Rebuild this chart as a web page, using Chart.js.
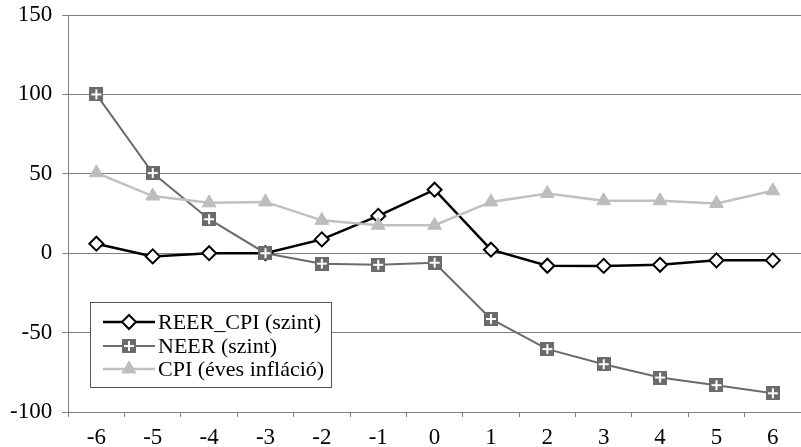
<!DOCTYPE html>
<html>
<head>
<meta charset="utf-8">
<script src="https://cdn.jsdelivr.net/npm/chart.js@4/dist/chart.umd.min.js"></script>
<style>
html, body { margin: 0; padding: 0; overflow: hidden; background: #fff; }
</style>
</head>
<body>
<canvas id="chart" width="810" height="447"></canvas>
<script>
const periods = ['-6', '-5', '-4', '-3', '-2', '-1', '0', '1', '2', '3', '4', '5', '6'];
const reerCpi = [6, -2, 0, 0, 8.7, 23.5, 40, 2.2, -7.9, -8, -7.3, -4.5, -4.5];
const neer = [100, 50.5, 21.4, 0, -6.6, -7.3, -6, -41.4, -60.4, -69.9, -78.3, -83.1, -88.2];
const cpiInflation = [50.6, 36, 31.7, 32.3, 20.7, 17.6, 17.6, 32.3, 37.6, 33, 33, 31.3, 39.3];
const seriesNames = ['REER_CPI (szint)', 'NEER (szint)', 'CPI (éves infláció)'];

const serif = 'Liberation Serif, Times New Roman, serif';

// grey square marker with a white cross, like the NEER points
function crossSquare() {
    const c = document.createElement('canvas');
    c.width = 14;
    c.height = 14;
    const g = c.getContext('2d');
    g.fillStyle = '#6b6b6b';
    g.fillRect(0, 0, 14, 14);
    g.fillStyle = '#fff';
    g.fillRect(6, 2, 2, 10);
    g.fillRect(2, 6, 10, 2);
    return c;
}
const neerMarker = crossSquare();

// legend drawn inside the plot, bottom left
const boxLegend = {
    id: 'boxLegend',
    afterDraw(chart) {
        const ctx = chart.ctx;
        const x0 = 90, y0 = 302, w = 241, h = 85;
        ctx.save();
        ctx.fillStyle = '#fff';
        ctx.fillRect(x0, y0, w, h);
        ctx.strokeStyle = '#555';
        ctx.lineWidth = 1;
        ctx.strokeRect(x0 + 0.5, y0 + 0.5, w, h);
        const rows = [322, 346, 369];
        chart.data.datasets.forEach((ds, i) => {
            const y = rows[i];
            ctx.strokeStyle = ds.borderColor;
            ctx.lineWidth = ds.borderWidth;
            ctx.beginPath();
            ctx.moveTo(103, y);
            ctx.lineTo(155, y);
            ctx.stroke();
            ctx.fillStyle = ds.pointBackgroundColor || '#fff';
            ctx.strokeStyle = ds.pointBorderColor || ds.borderColor;
            ctx.lineWidth = ds.pointBorderWidth;
            Chart.helpers.drawPoint(ctx, {
                pointStyle: ds.pointStyle,
                radius: ds.pointRadius,
                borderWidth: ds.pointBorderWidth,
                rotation: 0
            }, 129, y);
            ctx.fillStyle = '#000';
            ctx.font = '22px ' + serif;
            ctx.textBaseline = 'middle';
            ctx.textAlign = 'left';
            ctx.fillText(seriesNames[i], 158, y + 1);
        });
        ctx.restore();
    }
};

new Chart(document.getElementById('chart'), {
    type: 'line',
    data: {
        labels: periods,
        datasets: [{
            label: seriesNames[0],
            data: reerCpi,
            borderColor: '#000',
            borderWidth: 2.5,
            pointStyle: 'rectRot',
            pointRadius: 7,
            pointBackgroundColor: '#fff',
            pointBorderColor: '#000',
            pointBorderWidth: 2,
            order: 3
        }, {
            label: seriesNames[1],
            data: neer,
            borderColor: '#6b6b6b',
            borderWidth: 2,
            pointStyle: neerMarker,
            pointRadius: 7,
            pointBorderWidth: 0,
            order: 2
        }, {
            label: seriesNames[2],
            data: cpiInflation,
            borderColor: '#c0c0c0',
            borderWidth: 2.5,
            pointStyle: 'triangle',
            pointRadius: 8,
            pointBackgroundColor: '#bdbdbd',
            pointBorderColor: '#bdbdbd',
            pointBorderWidth: 1,
            order: 1
        }]
    },
    options: {
        responsive: false,
        animation: false,
        devicePixelRatio: 1,
        layout: {
            padding: { left: 0, top: 15, right: 1, bottom: -11 }
        },
        plugins: {
            legend: { display: false },
            tooltip: { enabled: false }
        },
        scales: {
            x: {
                offset: true,
                ticks: {
                    color: '#000',
                    padding: 9,
                    font: { family: serif, size: 23, lineHeight: 1 }
                },
                grid: {
                    offset: true,
                    drawOnChartArea: false,
                    tickLength: 5,
                    color: '#808080'
                },
                border: { color: '#808080', width: 1 }
            },
            y: {
                min: -100,
                max: 150,
                ticks: {
                    stepSize: 50,
                    color: '#000',
                    padding: 10,
                    font: { family: serif, size: 23, lineHeight: 0.4 }
                },
                grid: {
                    color: '#808080',
                    lineWidth: 1,
                    tickLength: 6
                },
                border: { color: '#808080', width: 1 }
            }
        }
    },
    plugins: [boxLegend]
});
</script>
</body>
</html>
